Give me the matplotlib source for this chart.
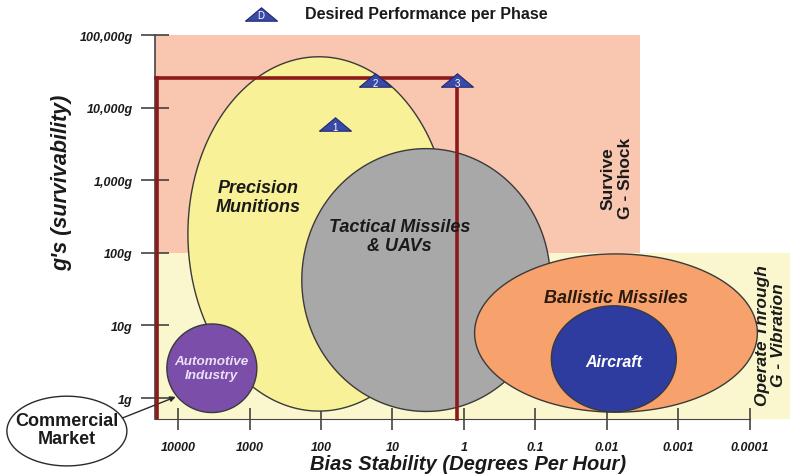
import matplotlib.pyplot as plt
import numpy as np
from matplotlib.path import Path
from matplotlib.ticker import NullLocator

plt.rcParams['font.family'] = ['Liberation Sans', 'DejaVu Sans']

# axis ticks: bias stability in deg/hr (log, reversed), shock in g (log)
rate_ticks = [1e4, 1e3, 1e2, 1e1, 1, 0.1, 0.01, 0.001, 0.0001]
rate_labels = ['10000', '1000', '100', '10', '1', '0.1', '0.01', '0.001', '0.0001']
g_ticks = [1, 10, 100, 1e3, 1e4, 1e5]
g_labels = ['1g', '10g', '100g', '1,000g', '10,000g', '100,000g']

# application regions, ellipses in decades (log10 deg/hr, log10 g)
region_names = ['Precision\nMunitions', 'Tactical Missiles\n& UAVs', 'Automotive\nIndustry',
                'Ballistic Missiles', 'Aircraft']
region_cx = [2.03, 0.53, 3.53, -2.13, -2.10]
region_cy = [2.26, 1.625, 0.41, 0.895, 0.54]
region_rx = [1.835, 1.74, 0.63, 1.98, 0.875]
region_ry = [2.44, 1.81, 0.61, 1.09, 0.73]
region_colors = ['#f8f197', '#a8a8a8', '#7b4fa9', '#f7a26c', '#2d3c9e']
label_rate = [760, 7.9, 3400, 0.0074, 0.0079]
label_g = [590, 170, 2.6, 24.5, 3.2]
label_colors = ['#1a1a1a', '#1a1a1a', '#ece0f8', '#2a1a10', 'white']
label_sizes = [13, 13, 9.7, 13, 11.5]

# commercial market callout (outside the axes)
market_cx, market_cy, market_rx, market_ry = 5.56, -0.455, 0.84, 0.48

# desired performance per phase
phase_names = ['1', '2', '3']
phase_rate = [64, 17.6, 1.25]
phase_g = [5900, 24000, 24000]

# requirement box and environment zones
box_rate = 1.25
box_g = 25600
shock_g = (100, 1e5)
shock_rate_end = 0.0034

fig = plt.figure(figsize=(7.9, 4.77), dpi=100)
ax = fig.add_axes([155 / 790, 57 / 477, 635 / 790, 384 / 477])
xmin, xmax = 10 ** 4.326, 10 ** -4.567
ymin, ymax = 10 ** -0.289, 1e5
ax.set_xscale('log')
ax.set_yscale('log')
ax.set_xlim(xmin, xmax)
ax.set_ylim(ymin, ymax)

# zones
ax.fill_between([xmin, shock_rate_end], shock_g[0], shock_g[1], color='#f9c6b0', lw=0, zorder=0)
ax.fill_between([xmin, xmax], ymin, shock_g[0], color='#faf6cd', lw=0, zorder=0)

t = np.linspace(0, 2 * np.pi, 300)
for i in range(len(region_names)):
    ax.fill(10 ** (region_cx[i] + region_rx[i] * np.cos(t)),
            10 ** (region_cy[i] + region_ry[i] * np.sin(t)),
            fc=region_colors[i], ec='#3a3a3a', lw=1, zorder=2 + i)
    ax.text(label_rate[i], label_g[i], region_names[i], ha='center', va='center',
            fontsize=label_sizes[i], fontweight='bold', fontstyle='italic',
            color=label_colors[i], linespacing=1.2, zorder=20)

# requirement box
ax.plot([xmin * 0.96, box_rate, box_rate], [box_g, box_g, ymin], color='#8b1a1a', lw=2.6,
        zorder=10, solid_joinstyle='miter', clip_on=False)
ax.plot([10 ** 4.30, 10 ** 4.30], [ymin, box_g], color='#8b1a1a', lw=2.6, zorder=10)

# phase triangles
tri = Path([(-1, -0.42), (1, -0.42), (0, 0.42), (-1, -0.42)])
ax.plot(phase_rate, phase_g, ls='none', marker=tri, ms=23, mfc='#3a48a8', mec='#1f2a70',
        mew=0.8, zorder=15)
for name, r, g in zip(phase_names, phase_rate, phase_g):
    ax.text(r, g * 0.92, name, ha='center', va='center', fontsize=7, color='white', zorder=16)

# legend at top
ax.plot([10 ** 2.84], [10 ** 5.29], marker=tri, ms=23, mfc='#3a48a8', mec='#1f2a70', mew=0.8,
        clip_on=False, zorder=15)
ax.text(10 ** 2.84, 10 ** 5.272, 'D', ha='center', va='center', fontsize=7, color='white',
        clip_on=False, zorder=16)
ax.text(10 ** 2.23, 10 ** 5.29, 'Desired Performance per Phase', ha='left', va='center',
        fontsize=11.5, fontweight='bold', color='#1a1a1a', clip_on=False)

# zone labels
ax.text(10 ** -2.14, 10 ** 3.04, 'Survive\nG - Shock', rotation=90, ha='center', va='center',
        fontsize=12.5, fontweight='bold', color='#1a1a1a', linespacing=1.15)
ax.text(10 ** -4.29, 10 ** 0.88, 'Operate Through\nG - Vibration', rotation=90, ha='center',
        va='center', fontsize=12.5, fontweight='bold', fontstyle='italic', color='#1a1a1a',
        linespacing=1.05, clip_on=False)

# commercial market callout
m = ax.fill(10 ** (market_cx + market_rx * np.cos(t)), 10 ** (market_cy + market_ry * np.sin(t)),
            fc='white', ec='#2a2a2a', lw=1, zorder=5)
for p in m:
    p.set_clip_on(False)
ax.text(10 ** market_cx, 10 ** (market_cy + 0.02), 'Commercial\nMarket', ha='center', va='center',
        fontsize=13, fontweight='bold', color='#1a1a1a', linespacing=1.05, clip_on=False, zorder=6)
ax.annotate('', xy=(10 ** 4.0, 10 ** 0.03), xytext=(10 ** 4.82, 10 ** -0.29),
            arrowprops=dict(arrowstyle='-|>', color='#2a2a2a', lw=1, mutation_scale=8),
            annotation_clip=False, zorder=6)

# axes styling
for s in ['top', 'right']:
    ax.spines[s].set_visible(False)
ax.spines['bottom'].set_bounds(xmin, 1e-4)
ax.spines['bottom'].set_color('#444444')
ax.spines['left'].set_color('#444444')
ax.spines['left'].set_linewidth(1.2)
ax.set_xticks(rate_ticks, rate_labels)
ax.set_yticks(g_ticks, g_labels)
ax.xaxis.set_minor_locator(NullLocator())
ax.yaxis.set_minor_locator(NullLocator())
ax.tick_params(axis='x', direction='inout', length=16, width=1.1, color='#333333', pad=8,
               labelsize=9)
ax.tick_params(axis='y', direction='inout', length=20, width=1.1, color='#333333', pad=6,
               labelsize=9)
for lab in ax.get_xticklabels() + ax.get_yticklabels():
    lab.set_fontstyle('italic')
    lab.set_fontweight('bold')
    lab.set_color('#1a1a1a')

fig.text(468 / 790, 1 - 465 / 477, 'Bias Stability (Degrees Per Hour)', ha='center', va='center',
         fontsize=14.5, fontweight='bold', fontstyle='italic', color='#1a1a1a')
fig.text(62 / 790, 1 - 183 / 477, "g's (survivability)", rotation=90, ha='center', va='center',
         fontsize=15.5, fontweight='bold', fontstyle='italic', color='#1a1a1a')

fig.savefig('out.png', dpi=100)
